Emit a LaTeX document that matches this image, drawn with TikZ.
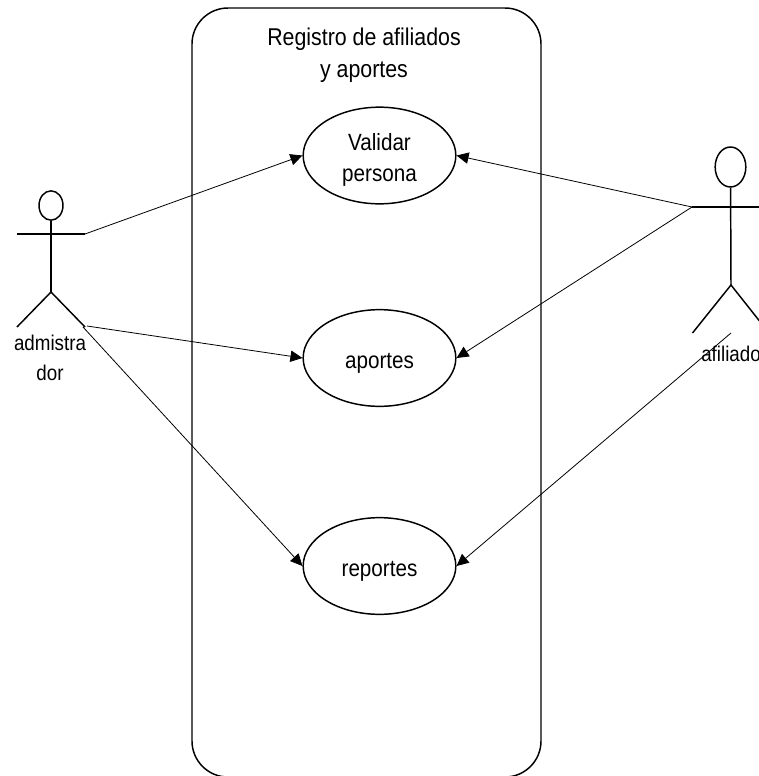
\documentclass[tikz,border=0pt]{standalone}
\usepackage{fontspec}
\setmainfont[FakeStretch=0.88]{Liberation Sans}
\usetikzlibrary{shapes.geometric,arrows.meta}
\newcommand{\lowered}{\rule{0pt}{19pt}}
\tikzset{
  usecase/.style={draw, ellipse, line width=1.1pt, minimum width=114.5pt, minimum height=72.5pt, inner sep=0pt, align=center, font=\fontsize{17.6}{23}\selectfont},
  label/.style={align=center, inner sep=0pt, font=\fontsize{16}{23}\selectfont},
  actorline/.style={line width=1.1pt},
  assoc/.style={line width=0.6pt, -{Triangle[length=9pt,width=8.5pt]}}
}
\begin{document}
\begin{tikzpicture}[x=0.75pt,y=-0.75pt]
        \useasboundingbox (0,0) rectangle (759,776);
        % system box
        \draw[line width=1.1pt, rounded corners=27pt] (192,8) rectangle (541,777);
        \node[label, font=\fontsize{18.2}{24}\selectfont] (title) at (364,55) {Registro de afiliados\\y aportes};
        % use cases
        \node[usecase] (validar) at (379.5,155.5) {\lowered Validar\\persona};
        \node[usecase] (aportes) at (379.5,358) {\lowered aportes};
        \node[usecase] (reportes) at (379.5,566) {\lowered reportes};
        % admin actor
        \node[draw, ellipse, line width=1.1pt, minimum width=18pt, minimum height=22pt, inner sep=0pt] (headA) at (51,205.5) {};
        \coordinate (armAl) at (17,234);
        \coordinate (armAr) at (85,234);
        \coordinate (hipA) at (51,292);
        \coordinate (footAl) at (17,327);
        \coordinate (footAr) at (85,327);
        \draw[actorline] (headA) -- (hipA);
        \draw[actorline] (armAl) -- (armAr);
        \draw[actorline] (footAl) -- (hipA) -- (footAr);
        \node[label] (admin) at (50,358) {admistra\\dor};
        % afiliado actor
        \node[draw, ellipse, line width=1.1pt, minimum width=23pt, minimum height=30pt, inner sep=0pt] (headB) at (730.5,167) {};
        \coordinate (armBl) at (692,207);
        \coordinate (armBr) at (769,207);
        \coordinate (hipB) at (731,285);
        \coordinate (footBl) at (692.5,333);
        \coordinate (footBr) at (769,333);
        \draw[actorline] (headB) -- (hipB);
        \draw[actorline] (armBl) -- (armBr);
        \draw[actorline] (footBl) -- (hipB) -- (footBr);
        \node[label, anchor=west] (afil) at (701,354) {afiliado};
        % associations
        \coordinate (startA) at (87,326);
        \coordinate (startB) at (83,327);
        \coordinate (startC) at (731,333);
        \draw[assoc] (armAr) -- (validar.west);
        \draw[assoc] (startA) -- (aportes.west);
        \draw[assoc] (startB) -- (reportes.west);
        \draw[assoc] (armBl) -- (validar.east);
        \draw[assoc] (armBl) -- (aportes.east);
        \draw[assoc] (startC) -- (reportes.east);
    \end{tikzpicture}
\end{document}
